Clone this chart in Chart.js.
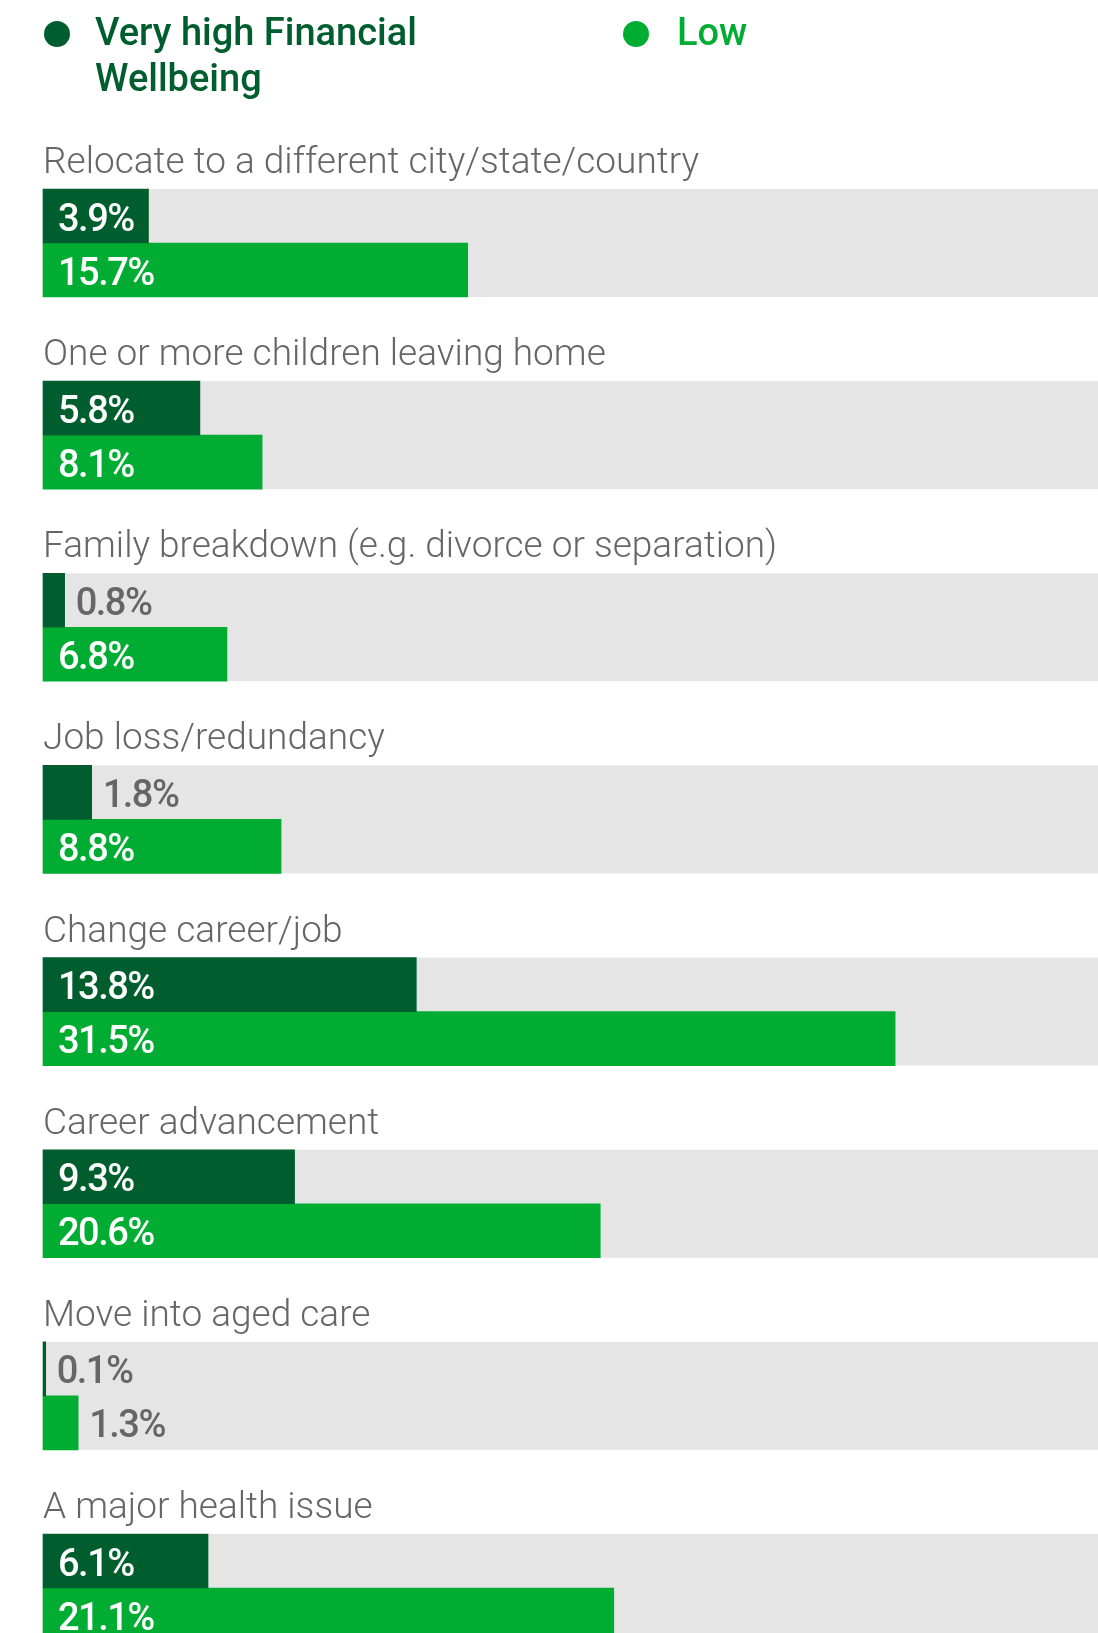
<!DOCTYPE html>
<html><head><meta charset="utf-8">
<script src="https://cdn.jsdelivr.net/npm/chart.js@4.4.0/dist/chart.umd.min.js"></script>
<style>html,body{margin:0;padding:0;background:#fff;overflow:hidden}
#wrap{position:relative;width:1098px;height:1633px}</style>
</head><body><div id="wrap"><canvas id="c" width="1098" height="1633"></canvas></div>
<script>
const categories = [
  'Relocate to a different city/state/country',
  'One or more children leaving home',
  'Family breakdown (e.g. divorce or separation)',
  'Job loss/redundancy',
  'Change career/job',
  'Career advancement',
  'Move into aged care',
  'A major health issue'
];
const seriesNames = ['Very high Financial Wellbeing', 'Low'];
const veryHigh = [3.9, 5.8, 0.8, 1.8, 13.8, 9.3, 0.1, 6.1];
const low = [15.7, 8.1, 6.8, 8.8, 31.5, 20.6, 1.3, 21.1];
const xMax = 39;

const DARK = '#005e2e', BRIGHT = '#00ad32', GRAY = '#e5e5e5', TEXT = '#666666';

const custom = {
  id: 'custom',
  beforeDatasetsDraw(chart) {
    const {ctx, scales: {x}} = chart;
    const m0 = chart.getDatasetMeta(0), m1 = chart.getDatasetMeta(1);
    ctx.save();
    ctx.fillStyle = GRAY;
    const x0 = x.getPixelForValue(0), x1 = x.getPixelForValue(xMax);
    categories.forEach((c, i) => {
      const a = m0.data[i], b = m1.data[i];
      const top = a.y - a.height / 2, bottom = b.y + b.height / 2;
      ctx.fillRect(x0, top, x1 - x0, bottom - top);
    });
    ctx.restore();
  },
  afterDatasetsDraw(chart) {
    const {ctx, scales: {x}} = chart;
    ctx.save();
    // category labels
    ctx.font = '300 37px Roboto';
    ctx.fillStyle = TEXT;
    ctx.textBaseline = 'alphabetic';
    const m0 = chart.getDatasetMeta(0);
    categories.forEach((c, i) => {
      const a = m0.data[i];
      ctx.fillText(c, x.getPixelForValue(0), a.y - a.height / 2 - 16);
    });
    // value labels
    ctx.font = '500 38px Roboto';
    ctx.letterSpacing = '-1.5px';
    chart.data.datasets.forEach((ds, di) => {
      const meta = chart.getDatasetMeta(di);
      meta.data.forEach((el, i) => {
        const txt = ds.data[i].toFixed(1) + '%';
        const w = ctx.measureText(txt).width;
        const len = el.x - el.base;
        let tx, col;
        if (len >= w + 18) { tx = el.base + 15; col = '#ffffff'; }
        else { tx = el.x + 11; col = TEXT; }
        ctx.fillStyle = col;
        ctx.fillText(txt, tx, el.y + 14.5);
      });
    });
    ctx.letterSpacing = '0px';
    // legend
    const items = [
      {name: seriesNames[0], color: DARK, dx: 57, tx: 95},
      {name: seriesNames[1], color: BRIGHT, dx: 636, tx: 677}
    ];
    ctx.font = '500 38px Roboto';
    items.forEach(it => {
      ctx.fillStyle = it.color;
      ctx.beginPath();
      ctx.arc(it.dx, 34, 13, 0, Math.PI * 2);
      ctx.fill();
      const words = it.name.split(' ');
      const lines = [];
      let cur = '';
      words.forEach(wd => {
        const t = cur ? cur + ' ' + wd : wd;
        if (ctx.measureText(t).width > 340 && cur) { lines.push(cur); cur = wd; }
        else cur = t;
      });
      if (cur) lines.push(cur);
      lines.forEach((ln, k) => ctx.fillText(ln, it.tx, 45 + k * 46));
    });
    ctx.restore();
  }
};

new Chart(document.getElementById('c'), {
  type: 'bar',
  data: {
    labels: categories,
    datasets: [
      {label: seriesNames[0], data: veryHigh, backgroundColor: DARK, barThickness: 54, borderWidth: 0, clip: false},
      {label: seriesNames[1], data: low, backgroundColor: BRIGHT, barThickness: 54, borderWidth: 0, clip: false}
    ]
  },
  options: {
    indexAxis: 'y',
    responsive: false,
    animation: false,
    layout: {padding: {left: 43, right: 0, top: 243, bottom: 45}},
    plugins: {legend: {display: false}, tooltip: {enabled: false}},
    scales: {
      x: {type: 'linear', min: 0, max: xMax, display: false},
      y: {type: 'category', offset: false, display: false}
    }
  },
  plugins: [custom]
});
</script></body></html>
